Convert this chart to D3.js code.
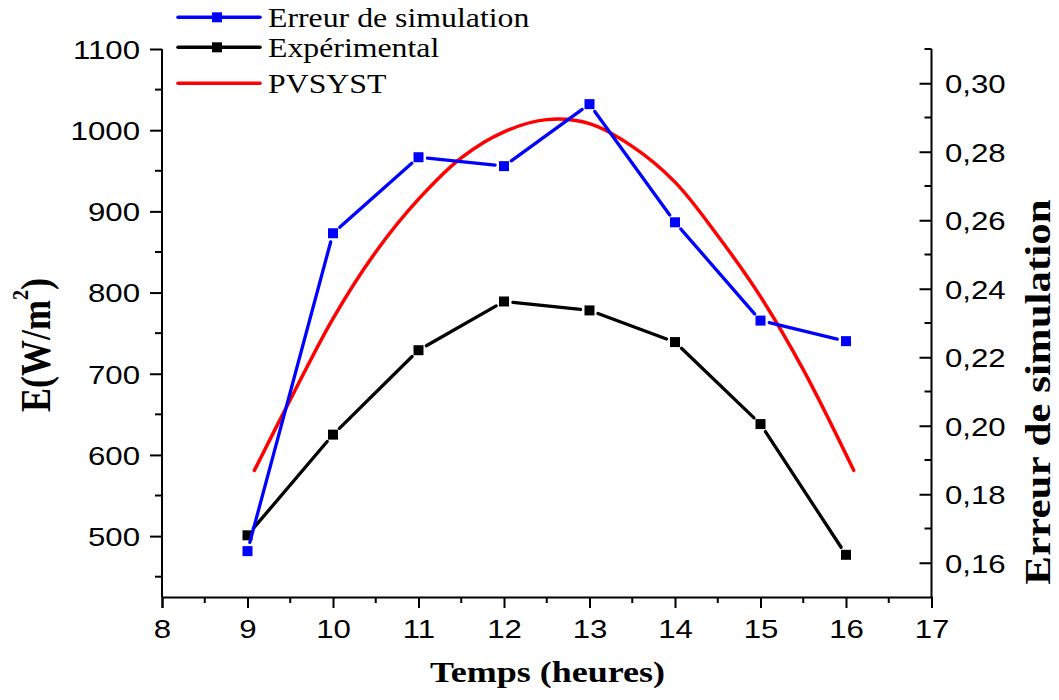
<!DOCTYPE html>
<html>
<head>
<meta charset="utf-8">
<script src="https://cdn.jsdelivr.net/npm/d3@7/dist/d3.min.js"></script>
<style>
  html, body { margin: 0; padding: 0; background: #fff; }
  svg { display: block; }
</style>
</head>
<body>
<svg id="chart" width="1059" height="700"></svg>
<script>
// Hours of the day (x axis)
const hours = [9, 10, 11, 12, 13, 14, 15, 16];
// Measured irradiance, W/m² (left axis)
const experimental = [501, 625, 729, 789, 778, 739, 638, 477];
// Simulation error (right axis)
const simulationError = [0.1634, 0.2562, 0.2784, 0.2758, 0.2939, 0.2594, 0.2307, 0.2247];
// PVSYST irradiance curve, W/m² (left axis)
const pvsystHours = [9.08, 9.5, 10, 10.5, 11, 11.5, 12, 12.5, 13, 13.5, 14, 14.5, 15, 15.5, 16.09];
const pvsystValues = [581, 668, 768, 850, 915, 966, 998, 1013, 1008, 980, 936, 870, 795, 705, 581];

const xTicks = [8, 9, 10, 11, 12, 13, 14, 15, 16, 17];
const leftTicks = [500, 600, 700, 800, 900, 1000, 1100];
const rightTicks = [0.16, 0.18, 0.20, 0.22, 0.24, 0.26, 0.28, 0.30];

const seriesNames = ["Erreur de simulation", "Expérimental", "PVSYST"];
const seriesColors = ["#0000ff", "#000000", "#ff0000"];

const SX = 1.2; // horizontal text stretch
const svg = d3.select("#chart");

const x = d3.scaleLinear().domain([8, 17]).range([162, 931.5]);
const yL = d3.scaleLinear().domain([425, 1100]).range([597, 49]);
const yR = d3.scaleLinear().domain([0.15, 0.31]).range([597, 49]);

const sans = "'Liberation Sans', Arial, sans-serif";
const serif = "'Liberation Serif', 'Times New Roman', serif";

// ---- axes ----
function styleAxis(g) {
  g.select(".domain").attr("stroke", "#000").attr("stroke-width", 2);
  g.selectAll(".tick line").attr("stroke", "#000").attr("stroke-width", 2);
}

// minor ticks
const xMinor = d3.range(8.5, 17, 1);
const lMinor = d3.range(450, 1100, 100);
const rMinor = d3.range(0.17, 0.315, 0.02);

const gx = svg.append("g").attr("transform", "translate(0,597)")
  .call(d3.axisBottom(x).tickValues(xTicks).tickSize(11).tickFormat(d3.format("d")));
styleAxis(gx);
gx.selectAll(".tick text")
  .attr("y", null).attr("dy", null)
  .attr("transform", `translate(0,41) scale(${SX},1)`)
  .attr("font-family", sans).attr("font-size", 26).attr("fill", "#000");
gx.append("g").selectAll("line").data(xMinor).join("line")
  .attr("x1", d => x(d)).attr("x2", d => x(d)).attr("y1", 0).attr("y2", 6)
  .attr("stroke", "#000").attr("stroke-width", 2);

const gl = svg.append("g").attr("transform", "translate(162,0)")
  .call(d3.axisLeft(yL).tickValues(leftTicks).tickSize(12).tickFormat(d3.format("d")));
styleAxis(gl);
gl.select(".domain").attr("d", `M0,${yL(425)}V${yL(1100)}`);
gl.selectAll(".tick text")
  .attr("x", null).attr("dy", "0.36em")
  .attr("transform", `translate(-22,0) scale(${SX},1)`)
  .attr("font-family", sans).attr("font-size", 26).attr("fill", "#000");
gl.append("g").selectAll("line").data(lMinor).join("line")
  .attr("x1", 0).attr("x2", -7).attr("y1", d => yL(d)).attr("y2", d => yL(d))
  .attr("stroke", "#000").attr("stroke-width", 2);

const fmtR = d => d3.format(".2f")(d).replace(".", ",");
const gr = svg.append("g").attr("transform", "translate(931.5,0)")
  .call(d3.axisRight(yR).tickValues(rightTicks).tickSize(-12).tickFormat(fmtR));
styleAxis(gr);
gr.select(".domain").attr("d", `M0,${yR(0.15)}V${yR(0.31)}`);
gr.selectAll(".tick text")
  .attr("x", null).attr("dy", "0.36em")
  .attr("transform", `translate(13.5,0) scale(${SX},1)`)
  .attr("font-family", sans).attr("font-size", 26).attr("fill", "#000");
gr.append("g").selectAll("line").data(rMinor).join("line")
  .attr("x1", 0).attr("x2", -7).attr("y1", d => yR(d)).attr("y2", d => yR(d))
  .attr("stroke", "#000").attr("stroke-width", 2);

// ---- axis titles ----
svg.append("text")
  .attr("transform", `translate(547.5,682) scale(${SX},1)`)
  .attr("text-anchor", "middle")
  .attr("font-family", serif).attr("font-weight", "bold").attr("font-size", 30)
  .text("Temps (heures)");

const ylab = svg.append("text")
  .attr("transform", `translate(50,345) scale(${SX},1) rotate(-90)`)
  .attr("text-anchor", "middle")
  .attr("font-family", serif).attr("font-weight", "bold").attr("font-size", 36);
ylab.append("tspan").text("E(W/m");
ylab.append("tspan").attr("font-size", 20).attr("dy", -18).text("2");
ylab.append("tspan").attr("dy", 18).text(")");

svg.append("text")
  .attr("transform", `translate(1050,392) scale(0.85,1) rotate(-90)`)
  .attr("text-anchor", "middle")
  .attr("font-family", serif).attr("font-weight", "bold").attr("font-size", 43)
  .text("Erreur de simulation");

// ---- data series ----
const plot = svg.append("g");

// PVSYST smooth curve
const pvsyst = pvsystHours.map((h, i) => [h, pvsystValues[i]]);
plot.append("path")
  .datum(pvsyst)
  .attr("fill", "none").attr("stroke", seriesColors[2]).attr("stroke-width", 3.5)
  .attr("stroke-linecap", "round")
  .attr("d", d3.line().x(d => x(d[0])).y(d => yL(d[1])).curve(d3.curveCatmullRom.alpha(0.5)));

// line segments stop short of each marker
function gappedSeries(values, yScale, color, gap) {
  const pts = hours.map((h, i) => [x(h), yScale(values[i])]);
  const segs = d3.pairs(pts).map(([a, b]) => {
    const dx = b[0] - a[0], dy = b[1] - a[1], L = Math.hypot(dx, dy);
    const ux = dx / L, uy = dy / L;
    return [a[0] + ux * gap, a[1] + uy * gap, b[0] - ux * gap, b[1] - uy * gap];
  });
  const g = plot.append("g");
  g.selectAll("line").data(segs).join("line")
    .attr("x1", d => d[0]).attr("y1", d => d[1]).attr("x2", d => d[2]).attr("y2", d => d[3])
    .attr("stroke", color).attr("stroke-width", 3.3).attr("stroke-linecap", "round");
  g.selectAll("rect").data(pts).join("rect")
    .attr("x", d => d[0] - 5).attr("y", d => d[1] - 5)
    .attr("width", 10).attr("height", 10).attr("fill", color);
}
gappedSeries(experimental, yL, seriesColors[1], 9);
gappedSeries(simulationError, yR, seriesColors[0], 9);

// ---- legend ----
const legendY = [17.3, 47.3, 83.3];
const legendMarker = [true, true, false];
const leg = svg.append("g");
seriesNames.forEach((name, i) => {
  const row = leg.append("g").attr("transform", `translate(0,${legendY[i]})`);
  row.append("line").attr("x1", 178).attr("x2", 260).attr("y1", 0).attr("y2", 0)
    .attr("stroke", seriesColors[i]).attr("stroke-width", 3.5).attr("stroke-linecap", "round");
  if (legendMarker[i]) {
    row.append("rect").attr("x", 212).attr("y", -5).attr("width", 10).attr("height", 10)
      .attr("fill", seriesColors[i]);
  }
  row.append("text")
    .attr("transform", `translate(268,9.5) scale(${SX},1)`)
    .attr("font-family", serif).attr("font-size", 26.5).attr("fill", "#000")
    .text(name);
});
</script>
</body>
</html>
